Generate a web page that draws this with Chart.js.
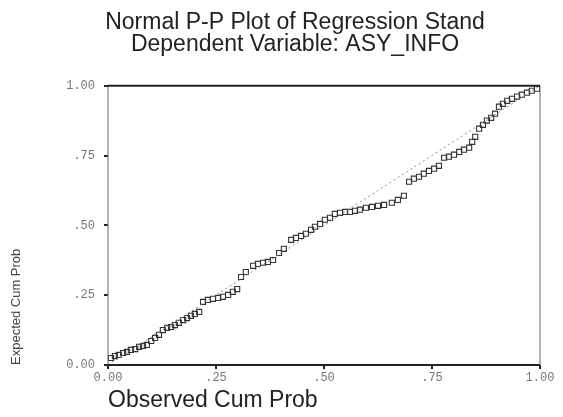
<!DOCTYPE html>
<html>
<head>
<meta charset="utf-8">
<script src="https://cdn.jsdelivr.net/npm/chart.js@4.4.1/dist/chart.umd.min.js"></script>
<style>
  body { margin: 0; background: #fff; }
  #wrap { width: 563px; height: 417px; position: relative; }
</style>
</head>
<body>
<div id="wrap"><canvas id="ppChart"></canvas></div>
<script>
  // observed cum prob (x) / expected cum prob (y)
  const observed = [
    0.007, 0.016, 0.025, 0.035, 0.044, 0.053, 0.063, 0.072, 0.081, 0.090,
    0.100, 0.109, 0.118, 0.127, 0.137, 0.146, 0.155, 0.164, 0.174, 0.183,
    0.192, 0.201, 0.211, 0.220, 0.231, 0.243, 0.255, 0.266, 0.278, 0.289,
    0.299, 0.308, 0.319, 0.336, 0.347, 0.359, 0.370, 0.382, 0.396, 0.407,
    0.424, 0.435, 0.447, 0.458, 0.470, 0.479, 0.491, 0.502, 0.514, 0.525,
    0.537, 0.549, 0.560, 0.572, 0.583, 0.597, 0.611, 0.625, 0.639, 0.657,
    0.671, 0.685, 0.697, 0.708, 0.720, 0.731, 0.743, 0.755, 0.766, 0.778,
    0.789, 0.801, 0.813, 0.824, 0.836, 0.843, 0.850, 0.859, 0.868, 0.877,
    0.887, 0.896, 0.905, 0.914, 0.924, 0.935, 0.947, 0.958, 0.970, 0.981,
    0.993,
  ];
  const expected = [
    0.025, 0.032, 0.036, 0.043, 0.047, 0.054, 0.057, 0.065, 0.068, 0.072,
    0.086, 0.097, 0.108, 0.125, 0.133, 0.136, 0.143, 0.151, 0.161, 0.168,
    0.176, 0.183, 0.190, 0.226, 0.233, 0.237, 0.240, 0.244, 0.251, 0.262,
    0.272, 0.315, 0.333, 0.355, 0.362, 0.366, 0.369, 0.376, 0.401, 0.416,
    0.448, 0.455, 0.462, 0.470, 0.484, 0.495, 0.505, 0.520, 0.527, 0.541,
    0.545, 0.548, 0.548, 0.552, 0.556, 0.563, 0.566, 0.570, 0.573, 0.581,
    0.591, 0.606, 0.656, 0.667, 0.674, 0.685, 0.695, 0.703, 0.713, 0.742,
    0.746, 0.753, 0.763, 0.771, 0.778, 0.799, 0.817, 0.846, 0.860, 0.875,
    0.885, 0.900, 0.925, 0.935, 0.946, 0.953, 0.961, 0.968, 0.975, 0.982,
    0.989,
  ];
  const diagonal = [0, 1];
  const xTickLabels = ["0.00", ".25", ".50", ".75", "1.00"];
  const yTickLabels = ["0.00", ".25", ".50", ".75", "1.00"];
  const titleLines = ["Normal P-P Plot of Regression Stand", "Dependent Variable: ASY_INFO"];
  const xTitle = "Observed Cum Prob";
  const yTitle = "Expected Cum Prob";

  const tickFont = { family: "Liberation Mono", size: 12 };

  // frame around plot area (bold top/bottom) + rotated y title placed low like the original
  const framePlugin = {
    id: "frame",
    afterDraw(chart) {
      const { ctx, chartArea: a } = chart;
      ctx.save();
      ctx.strokeStyle = "#666";
      ctx.lineWidth = 1;
      ctx.beginPath();
      ctx.moveTo(a.left, a.top);
      ctx.lineTo(a.left, a.bottom);
      ctx.moveTo(a.right, a.top);
      ctx.lineTo(a.right, a.bottom);
      ctx.stroke();
      ctx.strokeStyle = "#222";
      ctx.lineWidth = 2;
      ctx.beginPath();
      ctx.moveTo(a.left, a.top);
      ctx.lineTo(a.right, a.top);
      ctx.moveTo(a.left, a.bottom);
      ctx.lineTo(a.right, a.bottom);
      ctx.stroke();
      ctx.translate(16, a.bottom);
      ctx.rotate(-Math.PI / 2);
      ctx.fillStyle = "#444";
      ctx.font = "13px 'Liberation Sans'";
      ctx.textAlign = "left";
      ctx.textBaseline = "middle";
      ctx.fillText(yTitle, 0, 0);
      ctx.restore();
    },
  };

  new Chart(document.getElementById("ppChart").getContext("2d"), {
    type: "scatter",
    data: {
      datasets: [
        {
          data: diagonal.map((v) => ({ x: v, y: v })),
          showLine: true,
          borderColor: "#8a8a8a",
          borderWidth: 1,
          borderDash: [2, 3],
          pointRadius: 0,
        },
        {
          data: observed.map((x, i) => ({ x: x, y: expected[i] })),
          pointStyle: "rect",
          pointRadius: 3.6,
          borderColor: "#333",
          borderWidth: 1.1,
          backgroundColor: "rgba(255,255,255,0)",
        },
      ],
    },
    options: {
      responsive: true,
      maintainAspectRatio: false,
      animation: false,
      layout: { padding: { left: 50, right: 23, top: 0, bottom: 0 } },
      plugins: {
        legend: { display: false },
        tooltip: { enabled: false },
        title: {
          display: true,
          text: titleLines,
          color: "#222",
          font: { family: "Liberation Sans", size: 23, weight: "normal", lineHeight: 0.95 },
          padding: { top: 12, bottom: 30 },
        },
      },
      scales: {
        x: {
          type: "linear",
          min: 0,
          max: 1,
          afterFit: (scale) => { scale.height = 52; },
          border: { display: false },
          grid: { drawOnChartArea: false, tickLength: 4, color: "#222", lineWidth: 2 },
          ticks: {
            stepSize: 0.25,
            padding: 2,
            color: "#777",
            font: tickFont,
            callback: (v) => xTickLabels[Math.round(v * 4)],
          },
          title: {
            display: true,
            text: xTitle,
            align: "start",
            color: "#222",
            font: { family: "Liberation Sans", size: 23 },
            padding: { top: 0, bottom: 3 },
          },
        },
        y: {
          type: "linear",
          min: 0,
          max: 1,
          afterFit: (scale) => { scale.width = 58; },
          border: { display: false },
          grid: { drawOnChartArea: false, tickLength: 4, color: "#222", lineWidth: 2 },
          ticks: {
            stepSize: 0.25,
            padding: 9,
            color: "#777",
            font: tickFont,
            callback: (v) => yTickLabels[Math.round(v * 4)],
          },
        },
      },
    },
    plugins: [framePlugin],
  });
</script>
</body>
</html>
